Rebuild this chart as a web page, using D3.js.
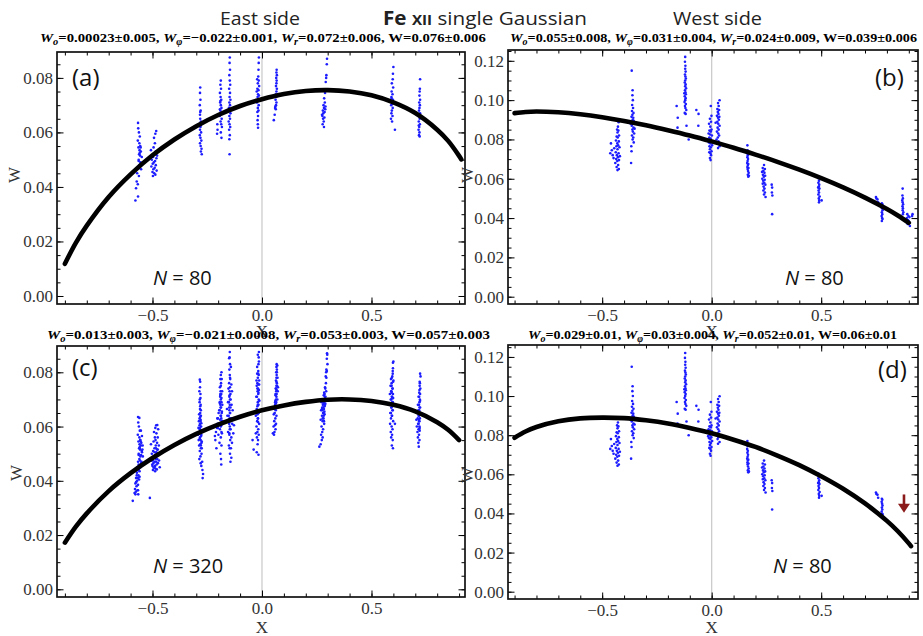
<!DOCTYPE html>
<html><head><meta charset="utf-8">
<script src="https://cdn.jsdelivr.net/npm/d3@7"></script>
<style>body{margin:0;background:#fff}svg{display:block}</style>
</head><body>
<svg id="c" width="923" height="636"></svg>
<script>
// ---------- DATA ----------
const xTickLabels = [-0.5, 0, 0.5];
const yTicksLeft = [0, 0.02, 0.04, 0.06, 0.08];
const yTicksRight = [0, 0.02, 0.04, 0.06, 0.08, 0.10, 0.12];
const panelLetters = ['(a)', '(b)', '(c)', '(d)'];
const panelN = ['80', '80', '320', '80'];
const fitA = ['0.00023±0.005', '−0.022±0.001', '0.072±0.006', '0.076±0.006'];
const fitB = ['0.055±0.008', '0.031±0.004', '0.024±0.009', '0.039±0.006'];
const fitC = ['0.013±0.003', '−0.021±0.0008', '0.053±0.003', '0.057±0.003'];
const fitD = ['0.029±0.01', '0.03±0.004', '0.052±0.01', '0.06±0.01'];

const curveA = [[-0.9,.0118],[-0.85,.0195],[-0.8,.0258],[-0.7,.0363],[-0.6,.0446],[-0.5,.0516],[-0.4,.0574],[-0.3,.0623],[-0.2,.0664],[-0.1,.0697],[0,.0722],[0.1,.0741],[0.2,.0752],[0.3,.0755],[0.4,.0750],[0.5,.0736],[0.6,.0710],[0.7,.0671],[0.8,.0610],[0.85,.0569],[0.9,.0514],[0.91,.0501]];
const curveB = [[-0.9,.0934],[-0.85,.0940],[-0.8,.0942],[-0.7,.0938],[-0.6,.0928],[-0.5,.0913],[-0.4,.0894],[-0.3,.0872],[-0.2,.0847],[-0.1,.0820],[0,.0790],[0.1,.0758],[0.2,.0723],[0.3,.0686],[0.4,.0646],[0.5,.0603],[0.6,.0556],[0.7,.0504],[0.8,.0446],[0.85,.0413],[0.9,.0376]];
const curveC = [[-0.9,.0172],[-0.85,.0231],[-0.8,.0280],[-0.7,.0362],[-0.6,.0428],[-0.5,.0484],[-0.4,.0532],[-0.3,.0573],[-0.2,.0607],[-0.1,.0636],[0,.0660],[0.1,.0678],[0.2,.0691],[0.3,.0699],[0.4,.0700],[0.5,.0694],[0.6,.0680],[0.7,.0656],[0.8,.0616],[0.85,.0588],[0.9,.0550]];
const curveD = [[-0.9,.0787],[-0.85,.0819],[-0.8,.0842],[-0.7,.0871],[-0.6,.0886],[-0.5,.0890],[-0.4,.0887],[-0.3,.0876],[-0.2,.0860],[-0.1,.0837],[0,.0810],[0.1,.0777],[0.2,.0740],[0.3,.0696],[0.4,.0647],[0.5,.0590],[0.6,.0526],[0.7,.0451],[0.8,.0362],[0.85,.0309],[0.9,.0247],[0.91,.0233]];

const ptsA = [
[-.566,.0635],[-.565,.0615],[-.562,.060],[-.558,.0585],[-.567,.057],[-.560,.056],[-.556,.055],[-.564,.0545],[-.559,.0535],[-.553,.053],[-.561,.052],[-.557,.0515],[-.549,.051],[-.563,.050],[-.555,.049],[-.560,.048],[-.566,.047],[-.552,.0465],[-.570,.045],[-.562,.044],[-.572,.042],[-.567,.041],[-.575,.0395],[-.566,.0365],[-.578,.035],[-.558,.0525],[-.554,.0545],[-.563,.0495],
[-.483,.0605],[-.487,.0595],[-.493,.058],[-.489,.056],[-.495,.0545],[-.485,.053],[-.491,.052],[-.497,.051],[-.482,.0505],[-.503,.050],[-.488,.0495],[-.494,.049],[-.499,.0485],[-.485,.048],[-.505,.0475],[-.490,.047],[-.496,.0465],[-.481,.046],[-.500,.0455],[-.492,.045],[-.487,.0445],[-.498,.044],[-.507,.0535],[-.479,.0515],
[-.282,.0765],[-.283,.0745],[-.281,.072],[-.284,.070],[-.280,.068],[-.283,.0665],[-.282,.065],[-.279,.064],[-.285,.063],[-.281,.062],[-.283,.061],[-.278,.060],[-.284,.059],[-.281,.058],[-.277,.057],[-.283,.056],[-.280,.055],[-.276,.054],[-.279,.053],[-.275,.052],[-.282,.0675],[-.280,.0625],
[-.188,.079],[-.190,.0775],[-.187,.076],[-.192,.0745],[-.189,.073],[-.186,.072],[-.191,.071],[-.188,.070],[-.185,.069],[-.190,.068],[-.187,.067],[-.193,.066],[-.184,.065],[-.189,.064],[-.186,.063],[-.204,.063],[-.203,.061],[-.205,.0595],[-.183,.062],[-.188,.060],[-.185,.058],[-.190,.0715],[-.192,.0685],
[-.147,.0875],[-.148,.0855],[-.146,.083],[-.149,.081],[-.147,.079],[-.145,.0775],[-.150,.076],[-.146,.0745],[-.148,.073],[-.144,.072],[-.149,.071],[-.146,.070],[-.151,.069],[-.147,.068],[-.144,.067],[-.149,.066],[-.146,.065],[-.152,.064],[-.148,.063],[-.145,.062],[-.150,.061],[-.147,.059],[-.149,.0575],[-.148,.052],
[-.014,.0875],[-.015,.0855],[-.016,.083],[-.017,.0805],[-.022,.0795],[-.015,.079],[-.019,.078],[-.013,.077],[-.021,.076],[-.016,.0755],[-.024,.075],[-.018,.074],[-.014,.0735],[-.020,.073],[-.017,.072],[-.023,.071],[-.015,.070],[-.019,.069],[-.016,.068],[-.021,.0675],[-.018,.066],[-.020,.0645],[-.019,.063],[-.018,.0617],
[.067,.083],[.066,.082],[.068,.081],[.065,.080],[.067,.079],[.066,.078],[.064,.077],[.068,.076],[.066,.075],[.063,.074],[.067,.0735],[.065,.073],[.062,.072],[.066,.071],[.064,.070],[.060,.069],[.063,.0685],[.058,.0665],[.054,.0645],[.061,.0695],
[.297,.087],[.296,.085],[.294,.081],[.293,.080],[.291,.0785],[.288,.0745],[.284,.0725],[.287,.071],[.281,.070],[.290,.0695],[.283,.069],[.278,.068],[.286,.0675],[.280,.067],[.276,.066],[.285,.0655],[.279,.065],[.282,.064],[.277,.063],[.283,.062],[.289,.0685],[.274,.0665],
[.600,.084],[.598,.0815],[.597,.0795],[.593,.078],[.599,.0765],[.592,.075],[.596,.074],[.591,.073],[.598,.072],[.594,.071],[.590,.070],[.597,.069],[.593,.068],[.591,.067],[.596,.066],[.589,.065],[.594,.064],[.607,.061],[.595,.0705],[.592,.0725],
[.722,.0795],[.721,.076],[.720,.075],[.719,.0735],[.722,.072],[.718,.071],[.721,.070],[.719,.069],[.717,.068],[.722,.067],[.718,.066],[.720,.065],[.716,.064],[.721,.063],[.718,.062],[.715,.061],[.719,.060],[.717,.059],[.720,.0585],[.716,.0625]
];
const ptsCExtra = [
[-.560,.0632],[-.553,.0585],[-.548,.0565],[-.556,.055],[-.551,.054],[-.545,.053],[-.558,.052],[-.548,.0505],[-.552,.0495],[-.544,.049],[-.557,.0475],[-.550,.047],[-.563,.046],[-.555,.045],[-.568,.0445],[-.559,.0435],[-.571,.043],[-.564,.042],[-.575,.041],[-.561,.0405],[-.570,.040],[-.578,.039],[-.566,.0385],[-.573,.038],[-.580,.037],[-.569,.0365],[-.576,.036],[-.582,.0355],[-.565,.035],[-.590,.0326],[-.512,.0337],[-.553,.0455],[-.546,.0515],[-.559,.0415],
[-.478,.0606],[-.474,.059],[-.482,.0575],[-.476,.056],[-.486,.055],[-.479,.054],[-.471,.053],[-.484,.052],[-.476,.0515],[-.490,.0505],[-.481,.050],[-.472,.0495],[-.486,.049],[-.493,.0485],[-.478,.048],[-.498,.0475],[-.483,.047],[-.475,.0465],[-.501,.046],[-.488,.0455],[-.467,.045],[-.495,.0448],[-.480,.0442],[-.505,.0475],[-.470,.0475],[-.488,.0435],
[-.284,.0773],[-.286,.073],[-.281,.0705],[-.285,.069],[-.279,.066],[-.287,.0645],[-.282,.0635],[-.288,.062],[-.277,.0612],[-.285,.0605],[-.290,.0595],[-.280,.0585],[-.286,.0575],[-.292,.057],[-.278,.0565],[-.284,.0555],[-.289,.055],[-.275,.0545],[-.282,.0535],[-.287,.053],[-.279,.052],[-.284,.051],[-.276,.050],[-.281,.049],[-.286,.048],[-.273,.047],[-.280,.0465],[-.277,.0455],[-.272,.044],[-.269,.0425],[-.271,.041],[-.283,.0595],
[-.185,.080],[-.184,.0775],[-.188,.075],[-.182,.073],[-.190,.072],[-.185,.0705],[-.193,.069],[-.181,.068],[-.189,.067],[-.195,.066],[-.183,.0655],[-.198,.065],[-.187,.064],[-.201,.063],[-.191,.0625],[-.180,.062],[-.196,.061],[-.186,.0605],[-.205,.060],[-.192,.059],[-.210,.058],[-.183,.0575],[-.199,.057],[-.188,.056],[-.213,.055],[-.194,.054],[-.185,.053],[-.208,.052],[-.190,.050],[-.187,.048],[-.186,.046],[-.215,.0565],[-.202,.0595],
[-.150,.0852],[-.142,.082],[-.146,.078],[-.140,.0755],[-.153,.074],[-.137,.073],[-.148,.0715],[-.143,.070],[-.155,.069],[-.139,.068],[-.150,.067],[-.134,.066],[-.146,.065],[-.158,.064],[-.141,.063],[-.152,.062],[-.136,.061],[-.147,.060],[-.143,.059],[-.155,.058],[-.131,.0575],[-.149,.057],[-.140,.056],[-.145,.055],[-.137,.054],[-.151,.053],[-.142,.052],[-.146,.050],[-.140,.0485],[-.144,.047],[-.128,.0605],[-.160,.0665],
[-.019,.0865],[-.014,.084],[-.022,.082],[-.017,.0795],[-.025,.077],[-.013,.0755],[-.021,.074],[-.016,.0725],[-.026,.071],[-.012,.0695],[-.019,.068],[-.024,.0665],[-.015,.065],[-.028,.064],[-.018,.063],[-.022,.062],[-.013,.061],[-.025,.060],[-.017,.059],[-.021,.058],[-.015,.057],[-.023,.056],[-.018,.055],[-.020,.0535],[-.038,.0515],[-.024,.0505],[-.043,.055],[-.016,.0496],[-.028,.0575],
[.070,.0825],[.068,.080],[.071,.078],[.066,.0765],[.069,.075],[.064,.074],[.072,.073],[.067,.072],[.062,.0715],[.070,.070],[.065,.069],[.060,.068],[.068,.067],[.063,.066],[.058,.065],[.066,.064],[.061,.063],[.056,.062],[.064,.061],[.059,.0605],[.053,.060],[.062,.059],[.057,.058],[.050,.0575],[.055,.057],[.073,.0745],[.060,.0665],
[.298,.0865],[.299,.083],[.296,.0805],[.294,.078],[.292,.076],[.289,.074],[.293,.073],[.286,.072],[.282,.0715],[.290,.071],[.277,.070],[.285,.0695],[.272,.069],[.281,.0685],[.288,.068],[.275,.067],[.283,.0665],[.270,.066],[.279,.065],[.286,.0645],[.274,.064],[.281,.063],[.268,.0625],[.277,.062],[.284,.061],[.272,.060],[.279,.059],[.275,.058],[.270,.057],[.277,.056],[.273,.055],[.268,.0535],[.262,.0526],
[.598,.0835],[.597,.0805],[.595,.0785],[.589,.0775],[.600,.077],[.592,.076],[.587,.075],[.596,.074],[.590,.073],[.584,.072],[.593,.071],[.599,.0705],[.588,.070],[.595,.069],[.583,.068],[.591,.067],[.597,.066],[.586,.065],[.593,.064],[.589,.063],[.599,.062],[.585,.061],[.592,.060],[.596,.059],[.588,.058],[.594,.057],[.590,.056],[.597,.055],[.593,.053],[.598,.052],
[.724,.0785],[.720,.0765],[.723,.074],[.718,.0725],[.715,.071],[.722,.0695],[.712,.068],[.719,.067],[.714,.066],[.709,.065],[.721,.0645],[.716,.064],[.711,.063],[.705,.0625],[.718,.062],[.713,.061],[.707,.060],[.720,.0595],[.715,.059],[.710,.058],[.717,.057],[.712,.056],[.719,.055],[.714,.054],[.716,.0526]
];
const ptsB = [
[-.425,.0888],[-.428,.0865],[-.432,.085],[-.426,.0845],[-.430,.0835],[-.423,.082],[-.434,.0815],[-.429,.081],[-.437,.0795],[-.424,.079],[-.431,.078],[-.460,.078],[-.427,.077],[-.435,.0765],[-.421,.076],[-.456,.0745],[-.430,.075],[-.438,.0735],[-.425,.073],[-.463,.073],[-.433,.072],[-.419,.0715],[-.428,.071],[-.448,.0705],[-.436,.070],[-.423,.0695],[-.431,.069],[-.440,.068],[-.427,.067],[-.434,.066],[-.424,.065],[-.430,.0644],[-.445,.0755],[-.452,.072],
[-.365,.115],[-.361,.105],[-.362,.1025],[-.360,.100],[-.363,.0975],[-.359,.096],[-.364,.0945],[-.357,.0935],[-.362,.0925],[-.366,.0915],[-.358,.091],[-.361,.090],[-.356,.0895],[-.363,.089],[-.359,.088],[-.365,.087],[-.357,.086],[-.362,.085],[-.360,.084],[-.354,.083],[-.364,.082],[-.358,.081],[-.361,.080],[-.356,.0785],[-.367,.0765],[-.366,.074],[-.368,.068],[-.352,.0855],[-.370,.088],
[-.121,.122],[-.122,.1195],[-.120,.1175],[-.121,.116],[-.119,.1145],[-.122,.113],[-.120,.112],[-.118,.111],[-.121,.110],[-.123,.109],[-.119,.108],[-.121,.107],[-.117,.106],[-.122,.105],[-.120,.104],[-.118,.103],[-.123,.102],[-.119,.101],[-.121,.100],[-.124,.099],[-.118,.098],[-.122,.097],[-.120,.096],[-.116,.095],[-.123,.0935],[-.119,.093],[-.160,.097],[-.155,.091],[-.156,.086],[-.115,.087],[-.105,.080],[-.070,.095],[-.060,.093],[-.061,.087],[-.125,.1035],
[-.004,.097],[-.001,.092],[-.008,.0905],[-.003,.089],[-.012,.088],[-.006,.0865],[-.001,.085],[-.010,.0845],[-.004,.084],[-.014,.083],[-.007,.0825],[.001,.082],[-.011,.081],[-.005,.0805],[-.009,.080],[-.002,.079],[-.013,.0785],[-.006,.078],[.002,.077],[-.010,.0765],[-.004,.076],[-.008,.075],[-.001,.074],[-.011,.0735],[-.006,.073],[-.003,.072],[-.008,.0705],[-.005,.0695],[-.016,.0795],
[.036,.0999],[.029,.0985],[.032,.097],[.026,.0955],[.034,.095],[.028,.094],[.031,.093],[.024,.092],[.035,.0915],[.029,.091],[.033,.090],[.026,.089],[.030,.088],[.036,.087],[.027,.086],[.032,.085],[.024,.084],[.030,.083],[.034,.082],[.028,.081],[.022,.080],[.031,.079],[.027,.078],[.036,.0765],[.018,.0885],[.029,.0756],
[.163,.077],[.164,.0745],[.162,.073],[.165,.072],[.163,.071],[.166,.070],[.164,.069],[.162,.068],[.167,.0675],[.165,.067],[.163,.066],[.168,.0655],[.164,.065],[.166,.064],[.169,.063],[.165,.062],[.170,.0615],[.167,.061],
[.239,.067],[.233,.0655],[.243,.065],[.236,.064],[.230,.0635],[.241,.063],[.234,.062],[.244,.0615],[.238,.061],[.231,.060],[.242,.0595],[.235,.059],[.240,.058],[.233,.0575],[.245,.057],[.237,.056],[.241,.055],[.236,.054],[.243,.053],[.239,.052],[.246,.0507],[.274,.057],[.276,.0555],[.275,.053],[.277,.0515],[.276,.042],
[.488,.0603],[.490,.059],[.487,.058],[.491,.057],[.489,.056],[.486,.0555],[.492,.055],[.488,.054],[.490,.053],[.487,.052],[.493,.051],[.489,.050],[.491,.049],[.490,.048],[.502,.049],
[.750,.0507],[.752,.050],[.757,.0495],[.760,.048],[.777,.0475],[.779,.047],[.776,.046],[.778,.045],[.780,.044],[.777,.043],[.779,.042],[.776,.041],[.778,.040],[.780,.0395],[.777,.0385],
[.872,.055],[.871,.0515],[.873,.050],[.870,.049],[.872,.048],[.874,.047],[.871,.046],[.873,.045],[.872,.044],[.875,.043],[.873,.042],
[.893,.042],[.898,.041],[.903,.0405],[.891,.040],[.896,.039],[.900,.0385],[.895,.037],[.905,.036],[.915,.041],[.917,.042]
];
const ptsC = ptsA.concat(ptsCExtra);
const ptsD = ptsB.filter(p => p[0] < 0.85);
const arrowD = [[0.878, 0.0497], [0.878, 0.0404]];

// ---------- LAYOUT ----------
const SERIF = '"Liberation Serif","Times New Roman",serif';
const SANS = '"Open Sans",Lato,sans-serif';
const panels = [
  {id:'a', pts:ptsA, curve:curveA, fit:fitA, k:0, L:57, T:52, R:465, B:304, xd:[-0.936,0.927], yd:[-0.00294,0.0895], yt:yTicksLeft,
   letterX:72, letterY:86, nX:153, nY:285, wX:19.5, wY:175, xlY:337, subX:[40,486], subY:42},
  {id:'b', pts:ptsB, curve:curveB, fit:fitB, k:1, L:508, T:50, R:918, B:304, xd:[-0.930,0.942], yd:[-0.00371,0.1255], yt:yTicksRight,
   letterX:875, letterY:86, nX:785, nY:285, wX:473, wY:175, xlY:337, subX:[510,917], subY:42},
  {id:'c', pts:ptsC, curve:curveC, fit:fitC, k:2, L:57, T:346, R:465, B:597, xd:[-0.936,0.927], yd:[-0.00284,0.0897], yt:yTicksLeft,
   letterX:72, letterY:376, nX:153, nY:573, wX:22, wY:473, xlY:633, subX:[47,490], subY:339},
  {id:'d', pts:ptsD, curve:curveD, fit:fitD, k:3, L:508, T:345, R:918, B:599, xd:[-0.930,0.942], yd:[-0.00373,0.1261], yt:yTicksRight,
   letterX:878, letterY:378, nX:773, nY:573, wX:473, wY:475, xlY:633, subX:[528,897], subY:339, arrow:arrowD}
];

const svg = d3.select('#c');
svg.append('rect').attr('width',923).attr('height',636).attr('fill','#fff');

function fitX(sel, x0, x1, yb) {
  const w = sel.node().getComputedTextLength();
  sel.attr('transform', `translate(${x0},${yb}) scale(${(x1 - x0) / w},1)`);
}

function drawPanel(p) {
  const g = svg.append('g');
  const x = d3.scaleLinear().domain(p.xd).range([p.L, p.R]);
  const y = d3.scaleLinear().domain(p.yd).range([p.B, p.T]);
  const cid = 'clip' + p.id;
  svg.append('clipPath').attr('id', cid).append('rect')
    .attr('x', p.L).attr('y', p.T).attr('width', p.R - p.L).attr('height', p.B - p.T);

  g.append('line').attr('x1', x(0)).attr('x2', x(0)).attr('y1', p.T).attr('y2', p.B)
    .attr('stroke', '#c8c8c8').attr('stroke-width', 1.2);

  g.append('g').attr('clip-path', `url(#${cid})`).selectAll('circle').data(p.pts).join('circle')
    .attr('cx', d => x(d[0])).attr('cy', d => y(d[1])).attr('r', 1.3).attr('fill', '#1c1cff');

  g.append('path').datum(p.curve)
    .attr('d', d3.line().x(d => x(d[0])).y(d => y(d[1])).curve(d3.curveCatmullRom.alpha(0.5)))
    .attr('fill', 'none').attr('stroke', '#000').attr('stroke-width', 4.6).attr('stroke-linecap', 'round');

  if (p.arrow) {
    const [a0, a1] = p.arrow;
    const ax0 = x(a0[0]), ay0 = y(a0[1]), ay1 = y(a1[1]);
    g.append('line').attr('x1', ax0).attr('x2', ax0).attr('y1', ay0).attr('y2', ay1 - 7)
      .attr('stroke', '#8b1a1a').attr('stroke-width', 2.6);
    g.append('path').attr('d', `M${ax0 - 6},${ay1 - 9} L${ax0 + 6},${ay1 - 9} L${ax0},${ay1} Z`).attr('fill', '#8b1a1a');
  }

  const xMinor = d3.range(-9, 10).map(i => i / 10).filter(v => v >= p.xd[0] && v <= p.xd[1]);
  const yMinor = d3.range(0, 30).map(i => i * 0.005).filter(v => v <= p.yd[1]);
  const fx = d3.format('.1f'), fy = d3.format('.2f');
  const noLbl = () => '';
  function axis(fn, tr, vals, size, fmt, pad) {
    const gg = g.append('g').attr('transform', tr)
      .call(fn.tickValues(vals).tickSize(-size).tickPadding(pad || 0).tickFormat(fmt || noLbl));
    gg.select('.domain').remove();
    gg.selectAll('line').attr('stroke', '#000').attr('stroke-width', 1);
    gg.selectAll('text').attr('font-family', SERIF).attr('font-size', 17).attr('fill', '#333');
  }
  axis(d3.axisBottom(x), `translate(0,${p.B})`, xMinor, 3.5);
  axis(d3.axisBottom(x), `translate(0,${p.B})`, xTickLabels, 6.5, fx, 5);
  axis(d3.axisTop(x), `translate(0,${p.T})`, xMinor, 3.5);
  axis(d3.axisTop(x), `translate(0,${p.T})`, xTickLabels, 6.5);
  axis(d3.axisLeft(y), `translate(${p.L},0)`, yMinor, 3.5);
  axis(d3.axisLeft(y), `translate(${p.L},0)`, p.yt, 6.5, fy, 4);
  axis(d3.axisRight(y), `translate(${p.R},0)`, yMinor, 3.5);
  axis(d3.axisRight(y), `translate(${p.R},0)`, p.yt, 6.5);

  g.append('rect').attr('x', p.L).attr('y', p.T).attr('width', p.R - p.L).attr('height', p.B - p.T)
    .attr('fill', 'none').attr('stroke', '#111').attr('stroke-width', 1.7);

  // axis titles
  g.append('text').attr('x', x(0)).attr('y', p.xlY).attr('text-anchor', 'middle')
    .attr('font-family', SERIF).attr('font-size', 17).attr('fill', '#333').text('X');
  g.append('text').attr('transform', `translate(${p.wX},${p.wY}) rotate(-90)`).attr('text-anchor', 'middle')
    .attr('font-family', SERIF).attr('font-size', 17).attr('fill', '#333').text('W');

  // panel letter and N
  g.append('text').attr('x', p.letterX).attr('y', p.letterY).attr('font-family', SANS)
    .attr('font-size', 24).attr('fill', '#111').text(panelLetters[p.k]);
  const nt = g.append('text').attr('x', p.nX).attr('y', p.nY).attr('font-family', SANS)
    .attr('font-size', 20).attr('fill', '#111');
  nt.append('tspan').attr('font-style', 'italic').text('N');
  nt.append('tspan').text(' = ' + panelN[p.k]);

  // fit subtitle
  const t = svg.append('text').attr('font-family', SERIF).attr('font-weight', 'bold')
    .attr('font-size', 13.5).attr('fill', '#000');
  const subs = ['o', 'φ', 'r', null];
  p.fit.forEach((v, i) => {
    if (subs[i]) {
      t.append('tspan').attr('font-style', 'italic').text('W');
      t.append('tspan').attr('font-style', 'italic').attr('font-size', 9.5).attr('dy', 3).text(subs[i]);
      t.append('tspan').attr('dy', -3).text('=' + v + ', ');
    } else {
      t.append('tspan').text('W=' + v);
    }
  });
  fitX(t, p.subX[0], p.subX[1], p.subY);
}

panels.forEach(drawPanel);

// header
const h1 = svg.append('text').attr('font-family', SANS).attr('font-size', 19).attr('fill', '#222').text('East side');
fitX(h1, 220, 300, 25);
const h2 = svg.append('text').attr('font-family', SANS).attr('font-size', 19).attr('fill', '#222');
h2.append('tspan').attr('font-weight', 'bold').text('Fe');
h2.append('tspan').text(' ');
h2.append('tspan').attr('font-weight', 'bold').attr('font-size', 14).text('XII');
h2.append('tspan').text('  single Gaussian');
fitX(h2, 383, 587, 25);
const h3 = svg.append('text').attr('font-family', SANS).attr('font-size', 19).attr('fill', '#222').text('West side');
fitX(h3, 673, 762, 25);
</script>
</body></html>
